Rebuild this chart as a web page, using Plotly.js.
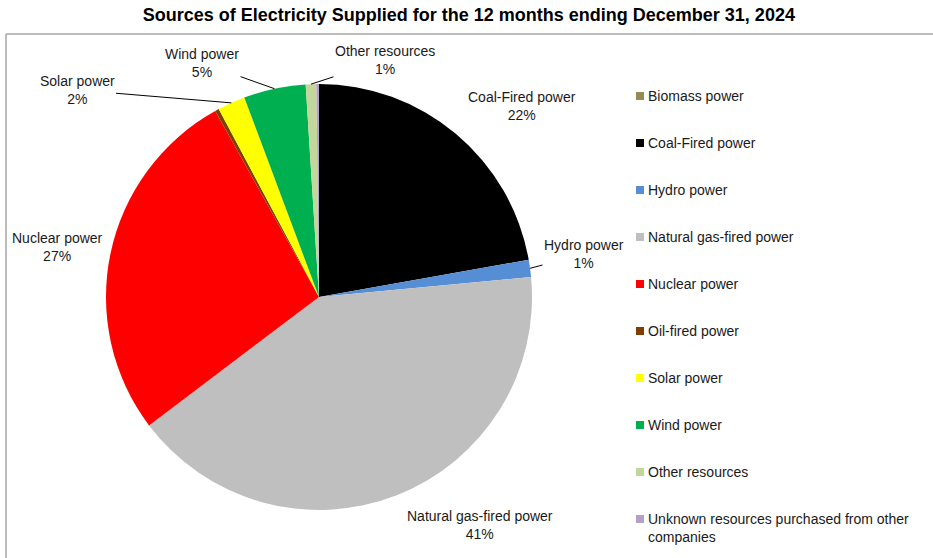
<!DOCTYPE html>
<html>
<head>
<meta charset="utf-8">
<script src="https://cdn.plot.ly/plotly-3.0.1.min.js"></script>
<style>html,body{margin:0;padding:0;background:#fff;}#chart{width:933px;height:558px;}</style>
</head>
<body>
<div id="chart"></div>
<script>
// ---- data ----
const labels = ["Biomass power","Coal-Fired power","Hydro power","Natural gas-fired power","Nuclear power","Oil-fired power","Solar power","Wind power","Other resources","Unknown resources purchased from other companies"];
const values = [0.0, 22.2, 1.3, 41.2, 27.2, 0.3, 2.1, 4.7, 0.8, 0.2];
const colors = ["#948A54","#000000","#558ED5","#BFBFBF","#FF0000","#7F3F00","#FFFF00","#00B050","#C3D69B","#B3A2C7"];
const legendText = ["Biomass power","Coal-Fired power","Hydro power","Natural gas-fired power","Nuclear power","Oil-fired power","Solar power","Wind power","Other resources","Unknown resources purchased from other<br>companies"];
const titleText = "Sources of Electricity Supplied for the 12 months ending December 31, 2024";

// ---- layout config (pixels) ----
const W = 933, H = 558;
const cx = 319, cy = 297, R = 213;
const labelPos = {
  "Coal-Fired power": {x: 522, y: 106, line: false},
  "Hydro power": {x: 584, y: 254, line: true},
  "Natural gas-fired power": {x: 480, y: 525, line: false},
  "Nuclear power": {x: 57, y: 247, line: false},
  "Solar power": {x: 77, y: 90, line: true},
  "Wind power": {x: 202, y: 63, line: true},
  "Other resources": {x: 385, y: 60, line: true}
};
const FONT = "Liberation Sans, Arial, sans-serif";
const FS = 14;
const px2x = p => p / W;
const py2y = p => 1 - p / H;

const total = values.reduce((a, b) => a + b, 0);
const annotations = [];
let cum = 0;
values.forEach((v, i) => {
  const mid = (cum + v / 2) / total;
  cum += v;
  const lp = labelPos[labels[i]];
  if (!lp) return;
  const ang = mid * 2 * Math.PI;
  const tx = cx + R * Math.sin(ang);
  const ty = cy - R * Math.cos(ang);
  const text = labels[i] + "<br>" + Math.round(v / total * 100) + "%";
  if (lp.line) {
    annotations.push({
      xref: "paper", yref: "paper", x: px2x(tx), y: py2y(ty),
      ax: lp.x - tx, ay: lp.y - ty, showarrow: true, arrowhead: 0, arrowwidth: 1,
      arrowcolor: "#000", standoff: 0, startstandoff: 0,
      text: text, font: {family: FONT, size: FS, color: "#1a1a1a"}, align: "center"
    });
  } else {
    annotations.push({
      xref: "paper", yref: "paper", x: px2x(lp.x), y: py2y(lp.y),
      xanchor: "center", yanchor: "middle", showarrow: false,
      text: text, font: {family: FONT, size: FS, color: "#1a1a1a"}, align: "center"
    });
  }
});

// custom legend
const shapes = [];
const legX = 636, legTextX = 646, legY0 = 96, legStep = 47, sq = 8;
labels.forEach((l, i) => {
  const y = legY0 + i * legStep;
  shapes.push({type: "rect", xref: "paper", yref: "paper",
    x0: px2x(legX), x1: px2x(legX + sq), y0: py2y(y - sq / 2), y1: py2y(y + sq / 2),
    fillcolor: colors[i], line: {width: 0}});
  annotations.push({xref: "paper", yref: "paper", x: px2x(legTextX), y: py2y(y - 10),
    xanchor: "left", yanchor: "top", showarrow: false, align: "left",
    text: legendText[i], font: {family: FONT, size: FS, color: "#1a1a1a"}});
});

// border
shapes.push({type: "line", xref: "paper", yref: "paper", x0: px2x(6), x1: px2x(940), y0: py2y(34), y1: py2y(34), line: {color: "#A6A6A6", width: 1.5}});
shapes.push({type: "line", xref: "paper", yref: "paper", x0: px2x(6), x1: px2x(6), y0: py2y(34), y1: py2y(570), line: {color: "#A6A6A6", width: 1.5}});

const trace = {
  type: "pie", labels: labels, values: values, sort: false, direction: "clockwise", rotation: 0,
  marker: {colors: colors, line: {width: 0}}, textinfo: "none", showlegend: false,
  domain: {x: [px2x(cx - R), px2x(cx + R)], y: [py2y(cy + R), py2y(cy - R)]},
  hoverinfo: "label+percent"
};

const layout = {
  width: W, height: H, margin: {l: 0, r: 0, t: 0, b: 0},
  paper_bgcolor: "#fff", plot_bgcolor: "#fff", showlegend: false,
  title: {text: "<b>" + titleText + "</b>", x: 0.5025, xanchor: "center", y: 1 - 15 / H, yanchor: "middle", yref: "container",
    font: {family: FONT, size: 18, color: "#000"}},
  annotations: annotations, shapes: shapes
};
Plotly.newPlot("chart", [trace], layout, {displayModeBar: false, staticPlot: true});
</script>
</body>
</html>
